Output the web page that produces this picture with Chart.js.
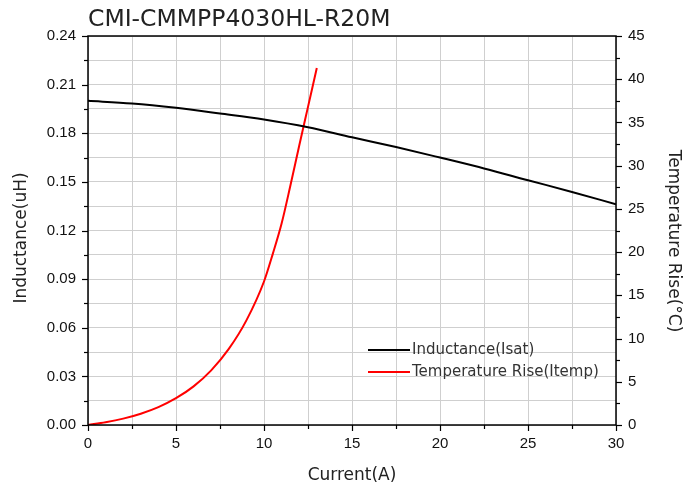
<!DOCTYPE html>
<html>
<head>
<meta charset="utf-8">
<script src="https://cdn.jsdelivr.net/npm/chart.js@4"></script>
<style>
  html, body { margin: 0; padding: 0; background: #fff; }
  #wrap { width: 700px; height: 490px; }
</style>
</head>
<body>
<div id="wrap"><canvas id="chart" width="700" height="490"></canvas></div>
<script>
const chartTitle = 'CMI-CMMPP4030HL-R20M';
const seriesNames = ['Inductance(Isat)', 'Temperature Rise(Itemp)'];
const axisTitles = ['Current(A)', 'Inductance(uH)', 'Temperature Rise(°C)'];

// Inductance (uH) vs current (A)
const indCurrent = [0, 2.5, 5, 7.5, 10, 12.5, 15, 17.5, 20, 22.5, 25, 27.5, 30];
const indValues  = [0.200, 0.1984, 0.1957, 0.1922, 0.1885, 0.1837, 0.1775, 0.1715, 0.1650, 0.1583, 0.1510, 0.1438, 0.1362];

// Temperature rise (°C) vs current (A)
const tempCurrent = [0, 1, 2, 3, 4, 5, 6, 7, 8, 9, 10, 10.5, 11, 11.5, 12, 12.5, 13];
const tempValues  = [0, 0.32, 0.74, 1.31, 2.07, 3.1, 4.47, 6.32, 8.8, 12.1, 16.6, 19.8, 23.3, 27.7, 32.3, 36.8, 41.3];

const xTicks = [0, 5, 10, 15, 20, 25, 30];

const FONT_T = '"DejaVu Sans", Verdana, sans-serif';
const FONT_N = '"Liberation Sans", Arial, sans-serif';

const toPts = (xs, ys) => xs.map((x, i) => ({ x: x, y: ys[i] }));

// black frame, outward tick marks, titles and inner legend
const decor = {
  id: 'decor',
  afterDraw(chart) {
    const c = chart.ctx;
    const a = chart.chartArea;
    c.save();
    c.strokeStyle = '#000';
    c.lineWidth = 1.5;
    c.strokeRect(a.left, a.top, a.right - a.left, a.bottom - a.top);

    c.lineWidth = 1.2;
    const sx = chart.scales.x, sy = chart.scales.y, sy1 = chart.scales.y1;
    sx.ticks.forEach(t => {
      const p = Math.round(sx.getPixelForValue(t.value)) + 0.5;
      const len = Math.abs(t.value % 5) < 1e-6 ? 6 : 4;
      c.beginPath(); c.moveTo(p, a.bottom); c.lineTo(p, a.bottom + len); c.stroke();
    });
    sy.ticks.forEach(t => {
      const p = Math.round(sy.getPixelForValue(t.value)) + 0.5;
      const major = Math.abs(Math.round(t.value / 0.03) * 0.03 - t.value) < 1e-6;
      const len = major ? 6 : 4;
      c.beginPath(); c.moveTo(a.left, p); c.lineTo(a.left - len, p); c.stroke();
    });
    sy1.ticks.forEach(t => {
      const p = Math.round(sy1.getPixelForValue(t.value)) + 0.5;
      const len = Math.abs(t.value % 5) < 1e-6 ? 6 : 4;
      c.beginPath(); c.moveTo(a.right, p); c.lineTo(a.right + len, p); c.stroke();
    });

    // chart title
    c.fillStyle = '#222';
    c.font = '23.5px ' + FONT_T;
    c.textBaseline = 'alphabetic';
    c.textAlign = 'left';
    c.fillText(chartTitle, 88, 26);

    // axis titles
    c.font = '17px ' + FONT_T;
    c.textAlign = 'center';
    c.textBaseline = 'middle';
    c.fillText(axisTitles[0], (a.left + a.right) / 2, 476);
    c.save();
    c.translate(22, 238);
    c.rotate(-Math.PI / 2);
    c.fillText(axisTitles[1], 0, 0);
    c.restore();
    c.save();
    c.translate(673, 241);
    c.rotate(Math.PI / 2);
    c.fillText(axisTitles[2], 0, 0);
    c.restore();

    // legend
    c.font = '15px ' + FONT_T;
    c.textAlign = 'left';
    chart.data.datasets.forEach((ds, i) => {
      const y = 350 + i * 22;
      c.strokeStyle = ds.borderColor;
      c.lineWidth = 2;
      c.beginPath(); c.moveTo(368, y); c.lineTo(410, y); c.stroke();
      c.fillStyle = '#333';
      c.fillText(ds.label, 412, y);
    });
    c.restore();
  }
};

new Chart(document.getElementById('chart'), {
  type: 'line',
  data: {
    datasets: [
      {
        label: seriesNames[0],
        data: toPts(indCurrent, indValues),
        borderColor: '#000',
        borderWidth: 2,
        pointRadius: 0,
        cubicInterpolationMode: 'monotone',
        yAxisID: 'y'
      },
      {
        label: seriesNames[1],
        data: toPts(tempCurrent, tempValues),
        borderColor: '#ff0000',
        borderWidth: 2,
        pointRadius: 0,
        cubicInterpolationMode: 'monotone',
        yAxisID: 'y1'
      }
    ]
  },
  plugins: [decor],
  options: {
    responsive: false,
    animation: false,
    layout: { padding: { top: 36, left: 0, right: 0, bottom: 0 } },
    plugins: { legend: { display: false }, tooltip: { enabled: false }, title: { display: false } },
    scales: {
      x: {
        type: 'linear',
        min: 0, max: 30,
        afterFit(s) { s.height = 65; },
        ticks: {
          stepSize: 2.5,
          autoSkip: false,
          maxRotation: 0,
          padding: 4,
          color: '#111',
          font: { family: FONT_N, size: 15 },
          callback: v => xTicks.includes(v) ? String(v) : ''
        },
        grid: { color: '#cfcfcf', lineWidth: 1, tickLength: 6, tickColor: 'transparent' },
        border: { display: false }
      },
      y: {
        position: 'left',
        min: 0, max: 0.24,
        afterFit(s) { s.width = 88; },
        ticks: {
          stepSize: 0.015,
          autoSkip: false,
          padding: 6,
          color: '#111',
          font: { family: FONT_N, size: 15 },
          callback: v => {
            const k = Math.round(v / 0.03);
            return Math.abs(k * 0.03 - v) < 1e-6 ? v.toFixed(2) : '';
          }
        },
        grid: { color: '#cfcfcf', lineWidth: 1, tickLength: 6, tickColor: 'transparent' },
        border: { display: false }
      },
      y1: {
        position: 'right',
        min: 0, max: 45,
        afterFit(s) { s.width = 84; },
        ticks: {
          stepSize: 2.5,
          autoSkip: false,
          padding: 6,
          color: '#111',
          font: { family: FONT_N, size: 15 },
          callback: v => (Math.abs(v % 5) < 1e-6 ? String(v) : '')
        },
        grid: { drawOnChartArea: false, tickLength: 6, tickColor: 'transparent' },
        border: { display: false }
      }
    }
  }
});
</script>
</body>
</html>
